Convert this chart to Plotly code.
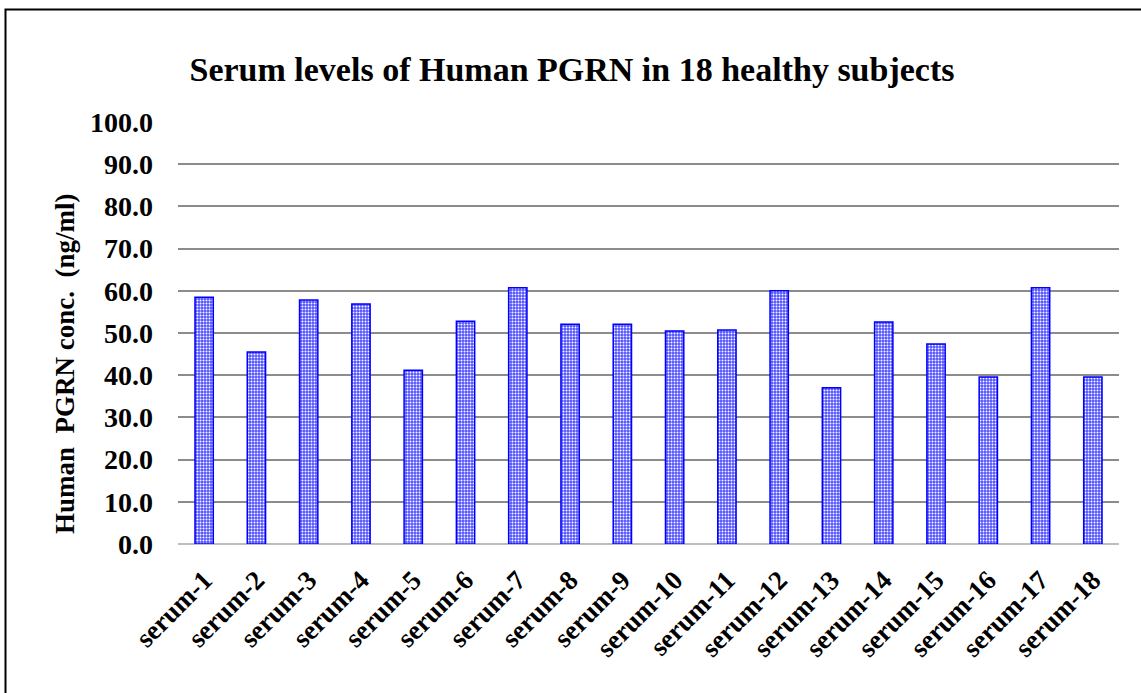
import plotly.graph_objects as go

categories = [f"serum-{i}" for i in range(1, 19)]
values = [58.5, 45.5, 57.8, 56.9, 41.2, 52.8, 60.7, 52.1, 52.1, 50.5,
          50.7, 60.0, 37.0, 52.6, 47.4, 39.6, 60.7, 39.6]
y_ticks = [0, 10, 20, 30, 40, 50, 60, 70, 80, 90, 100]
y_tick_labels = [f"{v:.1f}" for v in y_ticks]

FONT = "Liberation Serif"
W, H = 1141, 693
L, R, T, B = 178, 22, 122, 149

fig = go.Figure()
fig.add_trace(go.Bar(
    x=categories, y=values,
    marker=dict(
        color="#5252ff",
        line=dict(color="#0000ff", width=1.5),
        pattern=dict(shape=".", fgcolor="#ffffff", bgcolor="#5252ff",
                     size=3, solidity=0.35, fillmode="replace"),
    ),
    width=0.35,
))

pw = W - L - R
ph = H - T - B
fig.update_layout(
    width=W, height=H,
    margin=dict(l=L, r=R, t=T, b=B, pad=0),
    paper_bgcolor="white", plot_bgcolor="white",
    showlegend=False,
    font=dict(family=FONT, color="black"),
    title=dict(text="<b>Serum levels of Human PGRN in 18 healthy subjects</b>",
               font=dict(family=FONT, size=34, color="black"),
               x=572 / W, xanchor="center", xref="container",
               y=1 - 69 / H, yanchor="middle", yref="container"),
    xaxis=dict(
        tickangle=-45, tickfont=dict(family=FONT, size=27, color="black"),
        showgrid=False, showline=False, ticks="", ticklabelstandoff=14,
    ),
    yaxis=dict(
        range=[0, 100], tickvals=y_ticks, ticktext=[f"<b>{t}</b>" for t in y_tick_labels],
        tickfont=dict(family=FONT, size=28, color="black"),
        showgrid=True, gridcolor="#8c8c8c", gridwidth=1.5,
        zeroline=True, zerolinecolor="#bdbdbd", zerolinewidth=2,
        showline=False, ticks="", ticklabelstandoff=24,
    ),
    shapes=[dict(type="rect", xref="paper", yref="paper",
                 x0=(5.5 - L) / pw, x1=(W + 20 - L) / pw,
                 y0=-(H + 20 - T - ph) / ph, y1=(H - 9.5 - B) / ph,
                 line=dict(color="black", width=2), layer="above")],
    annotations=[dict(text="<b>Human  PGRN conc.  (ng/ml)</b>", textangle=-90,
                      xref="paper", yref="paper",
                      x=(65 - L) / pw, y=(H - B - 364) / ph,
                      xanchor="center", yanchor="middle", showarrow=False,
                      font=dict(family=FONT, size=27, color="black"))],
)
fig.update_xaxes(ticktext=[f"<b>{c}</b>" for c in categories], tickvals=categories)
fig.write_html("out.html", config={"displayModeBar": False},
               post_script="document.body.style.margin='0';document.body.style.overflow='hidden';")
